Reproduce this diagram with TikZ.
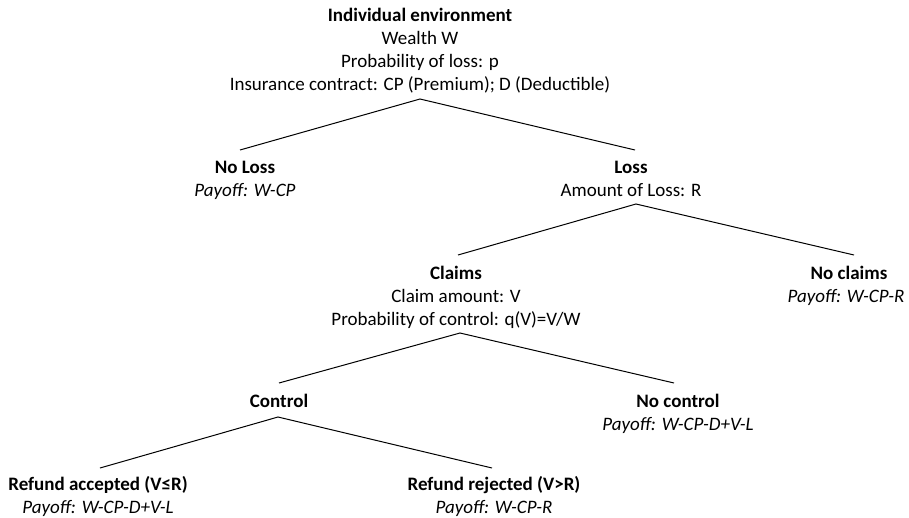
\documentclass[tikz,border=0pt]{standalone}
\usepackage{fontspec}
\setmainfont{Carlito}
\begin{document}
\begin{tikzpicture}[x=1pt,y=-1pt,
  txt/.style={anchor=base,inner sep=0pt,font=\fontsize{19}{23}\selectfont},
  hd/.style={txt,font=\fontsize{19}{23}\selectfont\bfseries},
  po/.style={txt,font=\fontsize{19}{23}\selectfont\itshape},
  branch/.style={line width=1pt,black}]
\useasboundingbox (0,0) rectangle (909,517);
% root
\node[hd]  (root)  at (420,21) {Individual environment};
\node[txt] (root2) at (420,44) {Wealth W};
\node[txt] (root3) at (420,67) {Probability of loss: p};
\node[txt] (root4) at (420,90) {Insurance contract: CP (Premium); D (Deductible)};
% level 1
\node[hd]  (noloss)  at (245,173) {No Loss};
\node[po]  (noloss2) at (245,196) {Payoff: W-CP};
\node[hd]  (loss)    at (631,173) {Loss};
\node[txt] (loss2)   at (631,196) {Amount of Loss: R};
% level 2
\node[hd]  (claims)  at (456,279) {Claims};
\node[txt] (claims2) at (456,302) {Claim amount: V};
\node[txt] (claims3) at (456,325) {Probability of control: q(V)=V/W};
\node[hd]  (noclaims)  at (849,279) {No claims};
\node[po]  (noclaims2) at (846,302) {Payoff: W-CP-R};
% level 3
\node[hd]  (control)    at (279,407) {Control};
\node[hd]  (nocontrol)  at (678,407) {No control};
\node[po]  (nocontrol2) at (678,430) {Payoff: W-CP-D+V-L};
% level 4
\node[hd]  (acc)  at (98,490) {Refund accepted (V≤R)};
\node[po]  (acc2) at (98,513) {Payoff: W-CP-D+V-L};
\node[hd]  (rej)  at (494,490) {Refund rejected (V>R)};
\node[po]  (rej2) at (494,513) {Payoff: W-CP-R};
% connector points
\coordinate (a0) at (420,99);
\coordinate (e0l) at (240,150);
\coordinate (e0r) at (635,150);
\coordinate (a1) at (636,204);
\coordinate (e1l) at (458,255);
\coordinate (e1r) at (854,255);
\coordinate (a2) at (460,333);
\coordinate (e2l) at (279,383);
\coordinate (e2r) at (674,383);
\coordinate (a3) at (278,417);
\coordinate (e3l) at (100,468);
\coordinate (e3r) at (492,468);
\draw[branch] (e0l) -- (a0) -- (e0r);
\draw[branch] (e1l) -- (a1) -- (e1r);
\draw[branch] (e2l) -- (a2) -- (e2r);
\draw[branch] (e3l) -- (a3) -- (e3r);
\end{tikzpicture}
\end{document}
